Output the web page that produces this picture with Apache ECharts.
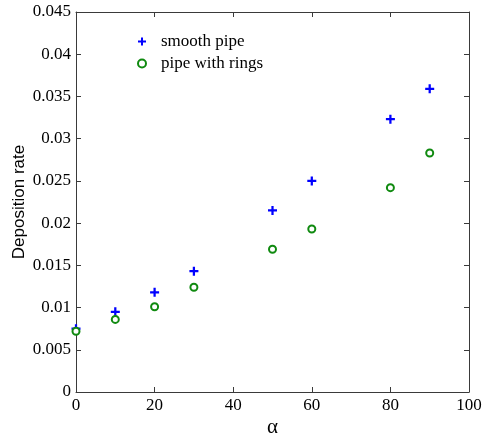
<!DOCTYPE html>
<html>
<head>
<meta charset="utf-8">
<script src="https://cdn.jsdelivr.net/npm/echarts@6/dist/echarts.min.js"></script>
<style>
html,body{margin:0;padding:0;background:#fff;}
#chart{width:482px;height:437px;}
</style>
</head>
<body>
<div id="chart"></div>
<script>
const alpha = [0, 10, 20, 30, 50, 60, 80, 90];
const smoothPipe = [0.0075, 0.0095, 0.0118, 0.0143, 0.0215, 0.0250, 0.0323, 0.0359];
const pipeWithRings = [0.0072, 0.0086, 0.0101, 0.0124, 0.0169, 0.0193, 0.0242, 0.0283];
const seriesNames = ['smooth pipe', 'pipe with rings'];
const xTicks = { min: 0, max: 100, interval: 20 };
const yTicks = { min: 0, max: 0.045, interval: 0.005 };

const plusPath = 'path://M0,3 H3 V0 H5 V3 H8 V5 H5 V8 H3 V5 H0 Z';
const axisColor = '#3a3a3a';
const blue = '#0000ff';
const green = '#108a10';
const serif = '"Liberation Serif", "Times New Roman", serif';
const sans = '"Liberation Sans", Arial, sans-serif';

const chart = echarts.init(document.getElementById('chart'));
const baseX = {
  type: 'value', min: xTicks.min, max: xTicks.max, interval: xTicks.interval,
  axisLine: { show: true, onZero: false, lineStyle: { color: axisColor, width: 1 } },
  axisTick: { show: true, inside: true, length: 5, lineStyle: { color: axisColor } },
  splitLine: { show: false }
};
const baseY = {
  type: 'value', min: yTicks.min, max: yTicks.max, interval: yTicks.interval,
  axisLine: { show: true, onZero: false, lineStyle: { color: axisColor, width: 1 } },
  axisTick: { show: true, inside: true, length: 5, lineStyle: { color: axisColor } },
  splitLine: { show: false }
};
chart.setOption({
  backgroundColor: '#fff',
  animation: false,
  grid: { left: 76, right: 13, top: 12, bottom: 45, containLabel: false, outerBoundsMode: 'none' },
  legend: {
    orient: 'vertical',
    left: 132, top: 28,
    itemWidth: 8, itemHeight: 8, itemGap: 5,
    textStyle: { fontFamily: serif, fontSize: 17, color: '#000', padding: [0, 0, 0, 10] },
    data: [
      { name: seriesNames[0], icon: plusPath, itemStyle: { color: blue, opacity: 1 } },
      { name: seriesNames[1], icon: 'emptyCircle', itemStyle: { color: green, borderColor: green, borderWidth: 2, opacity: 1 } }
    ]
  },
  xAxis: [
    Object.assign({}, baseX, {
      position: 'bottom',
      name: 'α', nameLocation: 'middle', nameGap: 25, nameMoveOverlap: false,
      nameTextStyle: { fontFamily: serif, fontSize: 21, color: '#000' },
      axisLabel: { fontFamily: serif, fontSize: 17, color: '#000', margin: 5 }
    }),
    Object.assign({}, baseX, { position: 'top', axisLabel: { show: false } })
  ],
  yAxis: [
    Object.assign({}, baseY, {
      position: 'left',
      name: 'Deposition rate', nameLocation: 'middle', nameGap: 48, nameRotate: 90, nameMoveOverlap: false,
      nameTextStyle: { fontFamily: sans, fontSize: 17, color: '#000' },
      axisLabel: { fontFamily: serif, fontSize: 17, color: '#000', margin: 5 }
    }),
    Object.assign({}, baseY, { position: 'right', axisLabel: { show: false } })
  ],
  series: [
    {
      name: seriesNames[0], type: 'scatter',
      symbol: plusPath, symbolSize: 9,
      itemStyle: { color: blue, opacity: 1 },
      data: alpha.map((a, i) => [a, smoothPipe[i]])
    },
    {
      name: seriesNames[1], type: 'scatter',
      symbol: 'circle', symbolSize: 7,
      itemStyle: { color: '#fff', borderColor: green, borderWidth: 2, opacity: 1 },
      data: alpha.map((a, i) => [a, pipeWithRings[i]])
    }
  ]
});
</script>
</body>
</html>
